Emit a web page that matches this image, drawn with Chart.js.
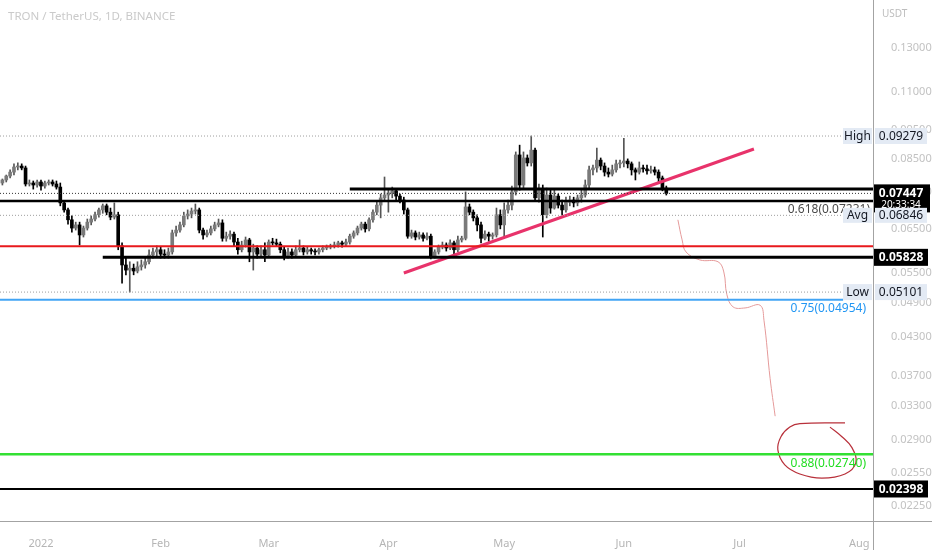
<!DOCTYPE html>
<html>
<head>
<meta charset="utf-8">
<script src="https://cdn.jsdelivr.net/npm/chart.js@4.4.1/dist/chart.umd.min.js"></script>
<style>
  html, body { margin: 0; padding: 0; background: #fff; }
  #wrap { width: 932px; height: 550px; }
</style>
</head>
<body>
<div id="wrap"><canvas id="chart" width="932" height="550"></canvas></div>
<script>
// TRX/USDT daily candles, day 0 = 1 Jan 2022
const firstDay = -10;

const opens = [
  .0775, .0784, .0796, .0808, .0824, .0827, .0821, .0772, .0775, .0769,
  .0778, .0766, .0775, .0778, .0772, .0763, .0718, .0699, .0673, .0652,
  .0660, .0635, .0652, .0667, .0675, .0686, .0699, .0710, .0693, .0680,
  .0686, .0609, .0566, .0555, .0559, .0553, .0562, .0566, .0573, .0588,
  .0595, .0600, .0590, .0588, .0595, .0640, .0647, .0660, .0683, .0688,
  .0696, .0699, .0647, .0635, .0640, .0650, .0660, .0665, .0627, .0632,
  .0637, .0618, .0600, .0611, .0623, .0595, .0604, .0590, .0600, .0588,
  .0618, .0616, .0613, .0600, .0586, .0595, .0588, .0600, .0604, .0595,
  .0600, .0597, .0595, .0600, .0604, .0606, .0609, .0611, .0616, .0613,
  .0618, .0632, .0640, .0652, .0662, .0650, .0673, .0693, .0712, .0732,
  .0740, .0746, .0752, .0737, .0726, .0699, .0632, .0640, .0630, .0635,
  .0627, .0632, .0586, .0595, .0606, .0611, .0604, .0616, .0600, .0623,
  .0627, .0707, .0693, .0678, .0660, .0627, .0637, .0632, .0635, .0686,
  .0660, .0699, .0712, .0749, .0863, .0769, .0853, .0837, .0879, .0732,
  .0754, .0686, .0740, .0704, .0737, .0712, .0699, .0720, .0726, .0718,
  .0732, .0740, .0769, .0815, .0821, .0846, .0827, .0808, .0802, .0815,
  .0834, .0837, .0843, .0834, .0815, .0808, .0821, .0818, .0812, .0815,
  .0808, .0790, .0760
];
const highs = [
  .0787, .0799, .0815, .0834, .0837, .0834, .0827, .0784, .0781, .0784,
  .0784, .0781, .0784, .0784, .0781, .0775, .0723, .0704, .0683, .0667,
  .0667, .0657, .0675, .0683, .0693, .0704, .0715, .0715, .0704, .0718,
  .0693, .0616, .0581, .0573, .0568, .0573, .0577, .0581, .0600, .0604,
  .0609, .0606, .0600, .0604, .0647, .0657, .0667, .0693, .0699, .0704,
  .0715, .0704, .0652, .0647, .0657, .0667, .0675, .0673, .0642, .0645,
  .0642, .0627, .0620, .0630, .0627, .0613, .0609, .0609, .0616, .0623,
  .0627, .0625, .0618, .0606, .0604, .0602, .0609, .0623, .0609, .0606,
  .0604, .0602, .0604, .0609, .0611, .0613, .0618, .0620, .0620, .0625,
  .0637, .0645, .0657, .0667, .0667, .0678, .0699, .0720, .0743, .0793,
  .0754, .0763, .0757, .0743, .0734, .0704, .0647, .0645, .0642, .0640,
  .0640, .0637, .0600, .0611, .0618, .0616, .0623, .0620, .0632, .0632,
  .0749, .0715, .0699, .0686, .0667, .0645, .0642, .0640, .0704, .0699,
  .0718, .0726, .0766, .0873, .0896, .0873, .0863, .09279, .0886, .0772,
  .0769, .0760, .0754, .0754, .0743, .0726, .0734, .0737, .0734, .0740,
  .0754, .0784, .0827, .0830, .0886, .0853, .0837, .0821, .0830, .0846,
  .0846, .0920, .0850, .0840, .0821, .0840, .0830, .0830, .0827, .0824,
  .0815, .0796, .0766
];
const lows = [
  .0769, .0778, .0790, .0799, .0815, .0815, .0766, .0766, .0757, .0763,
  .0754, .0760, .0769, .0766, .0757, .0710, .0693, .0662, .0642, .0647,
  .0611, .0630, .0647, .0660, .0670, .0680, .0690, .0686, .0673, .0675,
  .0600, .0528, .0545, .05101, .0545, .0549, .0555, .0559, .0568, .0581,
  .0586, .0581, .0581, .0581, .0590, .0632, .0642, .0655, .0675, .0678,
  .0688, .0640, .0625, .0630, .0635, .0645, .0655, .0620, .0620, .0625,
  .0609, .0590, .0595, .0606, .0573, .0555, .0581, .0586, .0573, .0583,
  .0611, .0609, .0593, .0577, .0581, .0581, .0583, .0595, .0588, .0590,
  .0590, .0588, .0590, .0595, .0600, .0602, .0604, .0606, .0606, .0609,
  .0613, .0627, .0635, .0647, .0642, .0645, .0667, .0686, .0678, .0726,
  .0693, .0732, .0726, .0718, .0688, .0627, .0627, .0623, .0625, .0620,
  .0623, .0579, .0581, .0590, .0602, .0597, .0600, .0590, .0595, .0618,
  .0623, .0686, .0670, .0645, .0616, .0623, .0620, .0625, .0630, .0650,
  .0627, .0690, .0699, .0740, .0754, .0760, .0827, .0827, .0726, .0720,
  .0630, .0678, .0690, .0701, .0704, .0686, .0693, .0710, .0707, .0710,
  .0720, .0734, .0760, .0799, .0808, .0815, .0796, .0793, .0796, .0808,
  .0821, .0824, .0821, .0799, .0784, .0802, .0808, .0802, .0805, .0799,
  .0778, .0752, .0740
];
const closes = [
  .0784, .0796, .0808, .0824, .0827, .0821, .0772, .0775, .0769, .0778,
  .0766, .0775, .0778, .0772, .0763, .0718, .0699, .0673, .0652, .0660,
  .0635, .0652, .0667, .0675, .0686, .0699, .0710, .0693, .0680, .0686,
  .0609, .0566, .0555, .0559, .0553, .0562, .0566, .0573, .0588, .0595,
  .0600, .0590, .0588, .0595, .0640, .0647, .0660, .0683, .0688, .0696,
  .0699, .0647, .0635, .0640, .0650, .0660, .0665, .0627, .0632, .0637,
  .0618, .0600, .0611, .0623, .0595, .0604, .0590, .0600, .0588, .0618,
  .0616, .0613, .0600, .0586, .0595, .0588, .0600, .0604, .0595, .0600,
  .0597, .0595, .0600, .0604, .0606, .0609, .0611, .0616, .0613, .0618,
  .0632, .0640, .0652, .0662, .0650, .0673, .0693, .0712, .0732, .0740,
  .0746, .0752, .0737, .0726, .0699, .0632, .0640, .0630, .0635, .0627,
  .0632, .0586, .0595, .0606, .0611, .0604, .0616, .0600, .0623, .0627,
  .0707, .0693, .0678, .0660, .0627, .0637, .0632, .0635, .0686, .0660,
  .0699, .0712, .0749, .0863, .0769, .0853, .0837, .0879, .0732, .0754,
  .0686, .0740, .0704, .0737, .0712, .0699, .0720, .0726, .0718, .0732,
  .0740, .0769, .0815, .0821, .0846, .0827, .0808, .0802, .0815, .0834,
  .0837, .0843, .0834, .0815, .0808, .0821, .0818, .0812, .0815, .0808,
  .0790, .0760, .07447
];

const monthDays = [0, 31, 59, 90, 120, 151, 181, 212];
const monthLabels = ['2022', 'Feb', 'Mar', 'Apr', 'May', 'Jun', 'Jul', 'Aug'];
const priceTicks = [0.13, 0.11, 0.095, 0.085, 0.075, 0.065, 0.055, 0.049, 0.043, 0.037, 0.033, 0.029, 0.0255, 0.0225];

// stats shown on the price scale
const statHigh = 0.09279, statLast = 0.07447, statAvg = 0.06846, statLow = 0.05101;
// drawn levels
const resistance = 0.07574, fib618 = 0.07231, redLevel = 0.0608, support = 0.05828;
const fib75 = 0.04954, fib88 = 0.0274, bottomLevel = 0.02398;
const resistanceFrom = 80, supportFrom = 16, fib75To = 207.8;
// pink trend line
const trendDays = [94.0, 184.7];
const trendPrices = [0.05489, 0.08828];
// hand drawn path + circle
const curveDays = [165.0, 166.1, 167.1, 170.7, 175.4, 176.9, 177.7, 179.3, 182.4, 186.3, 187.3, 188.9, 190.2];
const curvePrices = [0.0673, 0.0623, 0.0595, 0.0577, 0.0573, 0.0551, 0.0505, 0.0482, 0.0480, 0.0485, 0.0458, 0.0366, 0.0317];
const circleDays = [208.3, 196.6, 194.0, 191.7, 190.9, 192.7, 196.6, 202.3, 208.3, 211.1, 210.1, 207.5, 204.4];
const circlePrices = [0.0309, 0.0308, 0.0304, 0.0293, 0.02785, 0.0263, 0.0254, 0.0250, 0.0254, 0.0265, 0.0281, 0.0293, 0.0304];

const xMin = -10.62, xMax = 215.55;

const candleDays = opens.map((_, i) => firstDay + i);
const isUp = i => closes[i] >= opens[i];

function hline(v, from, to, color, width, dash) {
  return {
    type: 'line',
    data: [{ x: from, y: v }, { x: to, y: v }],
    borderColor: color,
    borderWidth: width,
    borderDash: dash || [],
    pointRadius: 0,
    fill: false,
    order: 0
  };
}

const font = '"Noto Sans", "DejaVu Sans", sans-serif';

const overlay = {
  id: 'overlay',
  afterDraw(chart) {
    const ctx = chart.ctx;
    const ys = chart.scales.y;
    const py = v => ys.getPixelForValue(v);
    const axisX = chart.chartArea.right;
    const axisY = chart.chartArea.bottom;

    ctx.save();
    // axis lines
    ctx.strokeStyle = '#a3a3a3';
    ctx.lineWidth = 1;
    ctx.beginPath();
    ctx.moveTo(Math.round(axisX) + 0.5, 0);
    ctx.lineTo(Math.round(axisX) + 0.5, chart.height);
    ctx.moveTo(0, Math.round(axisY) + 0.5);
    ctx.lineTo(chart.width, Math.round(axisY) + 0.5);
    ctx.stroke();

    // title
    ctx.fillStyle = '#cacaca';
    ctx.font = '11.5px ' + font;
    ctx.textBaseline = 'middle';
    ctx.textAlign = 'left';
    ctx.fillText('TRON / TetherUS, 1D, BINANCE', 8, 17);
    ctx.font = '10px ' + font;
    ctx.fillStyle = '#bdbdbd';
    ctx.fillText('USDT', axisX + 9, 14);

    // fib texts
    ctx.font = '12px ' + font;
    ctx.textAlign = 'right';
    ctx.fillStyle = '#4a4a4a';
    ctx.fillText('0.618(0.07231)', 870, py(fib618) + 9);
    ctx.fillStyle = '#2196f3';
    ctx.fillText('0.75(0.04954)', 866, py(fib75) + 9);
    ctx.fillStyle = '#22dd22';
    ctx.fillText('0.88(0.02740)', 866, py(fib88) + 9);

    function tag(x, y, w, h, bg, fg, text, bold) {
      ctx.fillStyle = bg;
      ctx.fillRect(x, y - h / 2, w, h);
      ctx.fillStyle = fg;
      ctx.font = (bold ? 'bold ' : '') + '12px ' + font;
      ctx.textAlign = 'center';
      ctx.fillText(text, x + w / 2, y + 0.5);
    }
    const light = '#e3eaf4';
    const dark = '#131722';

    // last price with countdown
    const yl = py(statLast);
    ctx.fillStyle = '#000';
    ctx.fillRect(axisX + 1, yl - 9, 56, 28);
    ctx.fillStyle = '#fff';
    ctx.font = 'bold 12px ' + font;
    ctx.textAlign = 'center';
    ctx.fillText(statLast.toFixed(5), axisX + 28, yl);
    ctx.font = '10px ' + font;
    ctx.fillText('20:33:34', axisX + 28, yl + 12);

    tag(843, py(statHigh), 29, 16, light, dark, 'High');
    tag(axisX + 2, py(statHigh), 52, 16, light, dark, statHigh.toFixed(5));
    tag(843, py(statAvg), 29, 15, light, dark, 'Avg');
    tag(axisX + 2, py(statAvg), 52, 15, light, dark, statAvg.toFixed(5));
    tag(843, py(statLow), 29, 16, light, dark, 'Low');
    tag(axisX + 2, py(statLow), 52, 16, light, dark, statLow.toFixed(5));
    tag(axisX + 1, py(support), 54, 17, '#000', '#fff', support.toFixed(5), true);
    tag(axisX + 1, py(bottomLevel), 54, 17, '#000', '#fff', bottomLevel.toFixed(5), true);
    ctx.restore();
  }
};

const datasets = [
  hline(statHigh, xMin, xMax, '#9e9e9e', 1, [1, 2]),
  hline(statLast, xMin, xMax, '#333333', 1, [1, 2]),
  hline(statAvg, xMin, xMax, '#9e9e9e', 1, [1, 2]),
  hline(statLow, xMin, xMax, '#9e9e9e', 1, [1, 2]),
  hline(resistance, resistanceFrom, xMax, '#000000', 3),
  hline(fib618, xMin, xMax, '#000000', 2.5),
  hline(redLevel, xMin, xMax, '#e8191c', 2),
  hline(support, supportFrom, xMax, '#000000', 3),
  hline(fib75, xMin, fib75To, '#42a5f5', 2),
  hline(fib88, xMin, xMax, '#33e033', 2.5),
  hline(bottomLevel, xMin, xMax, '#000000', 2),
  {
    type: 'line',
    data: trendDays.map((d, i) => ({ x: d, y: trendPrices[i] })),
    borderColor: '#e8336b',
    borderWidth: 3,
    pointRadius: 0,
    order: 0
  },
  {
    type: 'line',
    data: curveDays.map((d, i) => ({ x: d, y: curvePrices[i] })),
    borderColor: '#e59a9a',
    borderWidth: 1,
    tension: 0.4,
    pointRadius: 0,
    order: 0
  },
  {
    type: 'line',
    data: circleDays.map((d, i) => ({ x: d, y: circlePrices[i] })),
    borderColor: '#b8303a',
    borderWidth: 1.2,
    tension: 0.4,
    pointRadius: 0,
    order: 0
  },
  {
    type: 'bar',
    data: candleDays.map((d, i) => ({ x: d, y: [opens[i], closes[i]] })),
    barThickness: 3,
    minBarLength: 1,
    grouped: false,
    borderWidth: 0,
    backgroundColor: c => isUp(c.dataIndex) ? '#7a7a7a' : '#000000',
    order: 1
  },
  {
    type: 'bar',
    data: candleDays.map((d, i) => ({ x: d, y: [lows[i], highs[i]] })),
    barThickness: 1,
    grouped: false,
    borderWidth: 0,
    backgroundColor: c => isUp(c.dataIndex) ? '#555555' : '#000000',
    order: 2
  }
];

new Chart(document.getElementById('chart'), {
  type: 'bar',
  data: { datasets },
  options: {
    responsive: false,
    animation: false,
    layout: { padding: 0 },
    plugins: { legend: { display: false }, tooltip: { enabled: false } },
    scales: {
      x: {
        type: 'linear',
        min: xMin,
        max: xMax,
        offset: false,
        grid: { display: false },
        border: { display: false },
        afterFit: s => { s.height = 29; s.paddingLeft = 0; s.paddingRight = 0; },
        afterBuildTicks: s => { s.ticks = monthDays.map(v => ({ value: v })); },
        ticks: {
          autoSkip: false,
          maxRotation: 0,
          padding: 8,
          color: '#b5b5b5',
          font: { size: 11, family: font },
          callback: v => monthLabels[monthDays.indexOf(v)] || ''
        }
      },
      y: {
        type: 'logarithmic',
        position: 'right',
        min: 0.02121,
        max: 0.1563,
        grid: { display: false },
        border: { display: false },
        afterFit: s => { s.width = 59; s.paddingTop = 0; s.paddingBottom = 0; },
        afterBuildTicks: s => { s.ticks = priceTicks.map(v => ({ value: v })); },
        ticks: {
          autoSkip: false,
          padding: 10,
          color: '#c2c2c2',
          font: { size: 11, family: font },
          callback: v => Number(v).toFixed(5)
        }
      }
    }
  },
  plugins: [overlay]
});
</script>
</body>
</html>
